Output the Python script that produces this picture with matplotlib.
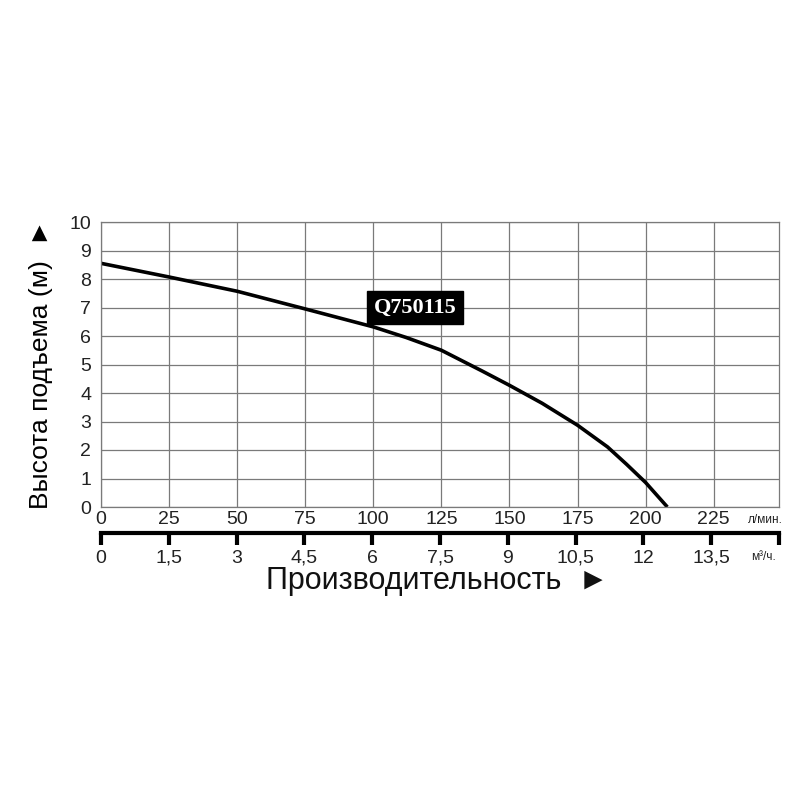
import matplotlib.pyplot as plt

# curve
flow_lpm = [0, 25, 50, 75, 100, 112, 125, 140, 150, 162, 175, 186, 193, 200, 208]
head_m   = [8.55, 8.07, 7.57, 6.95, 6.32, 5.95, 5.5, 4.77, 4.27, 3.64, 2.87, 2.11, 1.5, 0.86, 0]

lpm_ticks  = [0, 25, 50, 75, 100, 125, 150, 175, 200, 225]
m3h_ticks  = [0, 1.5, 3, 4.5, 6, 7.5, 9, 10.5, 12, 13.5, 15]
m3h_labels = ['0', '1,5', '3', '4,5', '6', '7,5', '9', '10,5', '12', '13,5', '']
head_ticks = list(range(0, 11))

model = 'Q750115'

plt.rcParams['font.family'] = ['Liberation Sans', 'DejaVu Sans']

fig = plt.figure(figsize=(8, 8), dpi=100)
L, R = 101 / 800, 779 / 800
ax = fig.add_axes([L, 1 - 507 / 800, R - L, (507 - 222) / 800])

ax.plot(flow_lpm, head_m, color='black', lw=2.6, solid_capstyle='butt',
        solid_joinstyle='round')
ax.set_xlim(0, 249)
ax.set_ylim(0, 10)
ax.set_xticks(lpm_ticks)
ax.set_yticks(head_ticks)
ax.grid(True, color='#7a7a7a', lw=0.9)
ax.tick_params(length=0, labelsize=14, colors='#222222', pad=7)
ax.tick_params(axis='x', pad=3)
for s in ax.spines.values():
    s.set_color('#7a7a7a')
    s.set_linewidth(0.9)

ax.text(115.3, 7.0, model, ha='center', va='center', color='white',
        family='Liberation Serif', weight='bold', fontsize=16,
        bbox=dict(boxstyle='square,pad=0.3', fc='black', ec='black'))

ax.set_ylabel('Высота подъема (м)  ►', fontsize=19, labelpad=12)

fig.text(0.957, 1 - 520 / 800, 'л/мин.', fontsize=8.5, ha='center', va='center',
         color='#222222')

# second scale in m3/h
ax2 = fig.add_axes([L, 1 - 533 / 800, R - L, 0.001])
ax2.set_xlim(0, 15 * 249 / 250)
ax2.set_xticks(m3h_ticks)
ax2.set_xticklabels(m3h_labels)
ax2.set_yticks([])
for k in ['top', 'left', 'right']:
    ax2.spines[k].set_visible(False)
ax2.spines['bottom'].set_linewidth(3)
ax2.tick_params(axis='x', direction='out', length=8.5, width=3, labelsize=14,
                colors='black', labelcolor='#222222', pad=13)
for t in ax2.get_xticklabels():
    t.set_verticalalignment('baseline')
ax2.patch.set_visible(False)

fig.text(0.955, 1 - 557 / 800, 'м³/ч.', fontsize=8.5, ha='center', va='center',
         color='#222222')
fig.text(0.547, 1 - 581 / 800, 'Производительность  ►', fontsize=22,
         ha='center', va='center', color='#111111')

fig.savefig('out.png', dpi=100)
